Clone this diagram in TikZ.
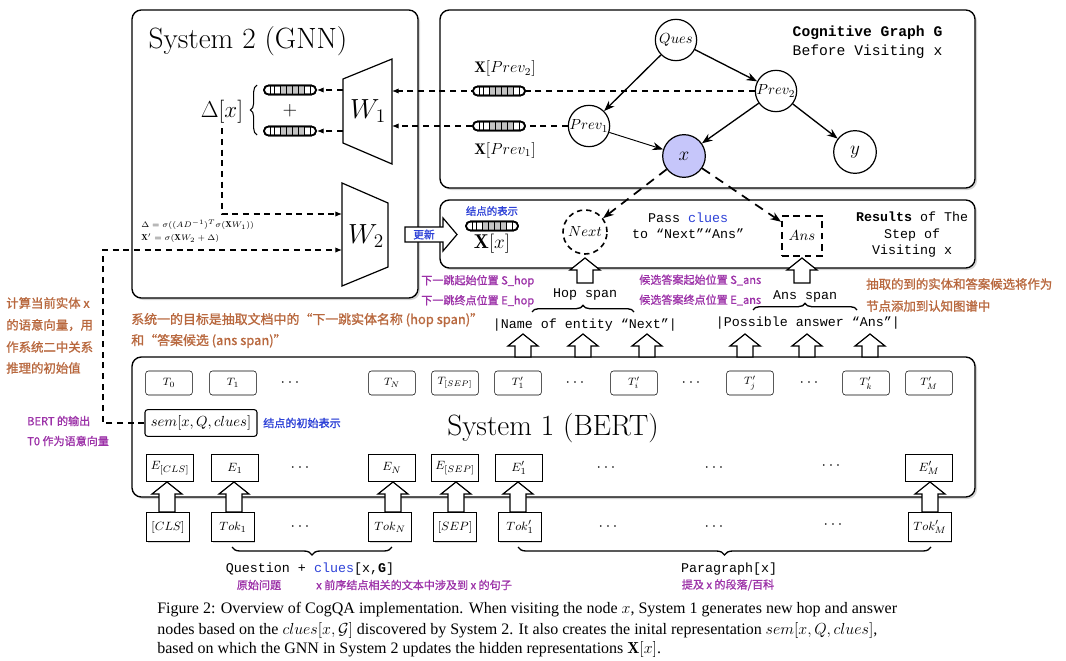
\documentclass[tikz,border=0pt]{standalone}
\usepackage{fontspec}
\setmonofont{Liberation Mono}
\newfontfamily\cjk[FakeBold=1.2]{Noto Sans CJK SC}
\newfontfamily\capfont{Liberation Serif}
\usetikzlibrary{arrows.meta,decorations.pathreplacing,shadows}
\definecolor{brownc}{RGB}{184,104,62}
\definecolor{purp}{RGB}{156,50,168}
\definecolor{blu}{RGB}{45,65,215}
\definecolor{lav}{RGB}{198,198,250}
\definecolor{vgray}{RGB}{195,195,195}
\newcommand\vecbar[1]{%
  \begin{scope}[shift={#1}]
    \draw[fill=white, line width=1.2pt, rounded corners=3.3pt] (-26,-4.5) rectangle (26,4.5);
    \fill[vgray] (-10,-4) rectangle (14,4);
    \foreach \xx in {-20,-16,-10,-4,2,8,14,20}{\draw[line width=0.6pt] (\xx,-4.5) -- (\xx,4.5);}
    \draw[line width=1.2pt, rounded corners=3.3pt] (-26,-4.5) rectangle (26,4.5);
  \end{scope}}
\newcommand\blkup[2]{%
  \begin{scope}[shift={#1}]
    \draw[line width=0.9pt, fill=white] (-8,0) -- (-8,-#2+12) -- (-15,-#2+12) -- (0,-#2) -- (15,-#2+12) -- (8,-#2+12) -- (8,0) -- cycle;
  \end{scope}}
\tikzset{
  bigbox/.style={draw, line width=1pt, rounded corners=7pt, fill=white, drop shadow={shadow xshift=1.5pt, shadow yshift=-1.5pt, opacity=0.35}},
  tbox/.style={draw, rounded corners=2pt, minimum width=35pt, minimum height=18pt, inner sep=0pt, fill=white, font=\fontsize{8.5}{9}\selectfont},
  ebox/.style={draw, line width=0.9pt, minimum width=35pt, minimum height=20pt, inner sep=0pt, fill=white, font=\fontsize{9.5}{10}\selectfont, drop shadow={shadow xshift=0.8pt, shadow yshift=-0.8pt, opacity=0.3}},
  tokbox/.style={draw, line width=0.9pt, minimum width=32pt, minimum height=22pt, inner sep=0pt, fill=white, font=\fontsize{9.5}{10}\selectfont, drop shadow={shadow xshift=0.8pt, shadow yshift=-0.8pt, opacity=0.3}},
  dotsn/.style={font=\fontsize{12}{12}\selectfont},
  gnode/.style={circle, draw, line width=0.9pt, minimum size=31pt, inner sep=0pt, fill=white, font=\fontsize{11}{12}\selectfont},
  gedge/.style={line width=1pt, -{Stealth[length=8pt,width=6pt]}},
  dasharr/.style={line width=0.8pt, dash pattern=on 4.5pt off 3.5pt, -{Latex[length=5pt,width=4pt]}},
  bigdash/.style={line width=1.3pt, dash pattern=on 7pt off 5pt, -{Stealth[length=8pt,width=6pt]}},
  cjkbr/.style={font=\cjk\fontsize{9.3}{11}\selectfont, text=brownc, inner sep=0pt},
  cjkp/.style={font=\cjk\fontsize{8.3}{10}\selectfont, text=purp, inner sep=0pt},
  cjkbl/.style={font=\cjk\fontsize{8.3}{10}\selectfont, text=blu, inner sep=0pt},
  mono/.style={font=\ttfamily\fontsize{10}{12}\selectfont},
  brc/.style={decorate, decoration={brace, amplitude=5pt}, line width=1pt},
  capt/.style={anchor=west, inner sep=0pt, font=\capfont\fontsize{12}{14}\selectfont},
}
\begin{document}
\begin{tikzpicture}[x=0.75pt,y=-0.75pt]
\useasboundingbox (0,0) rectangle (1066,660);
% ---------- main boxes
\draw[bigbox] (132,10) rectangle (418,298);
\draw[bigbox] (440,10) rectangle (975,188);
\draw[bigbox] (440,200) rectangle (975,268);
\draw[bigbox] (132,357) rectangle (975,497);

% ---------- System 2
\node (s2) at (248,41) {\fontsize{22}{26}\selectfont System 2 (GNN)};
\draw[line width=0.9pt, fill=white] (343,79) -- (392,59) -- (392,164) -- (343,143) -- cycle;
\node (W1) at (368,111) {\fontsize{20}{22}\selectfont $W_1$};
\draw[line width=0.9pt, fill=white] (342,183) -- (388,203) -- (388,267) -- (342,286) -- cycle;
\node (W2) at (366,236) {\fontsize{20}{22}\selectfont $W_2$};
\coordinate (w1a) at (392,91);
\coordinate (w1b) at (392,126);
\coordinate (w1c) at (343,90);
\coordinate (w1d) at (343,131);
\coordinate (w2a) at (342,214);
\coordinate (w2b) at (342,250);
\coordinate (v1e) at (317,90);
\coordinate (v2e) at (317,131);
\draw[dasharr] (w1c) -- (v1e);
\draw[dasharr] (w1d) -- (v2e);
\vecbar{(290,90)}
\vecbar{(290,131)}
\node (plus) at (290,111) {\fontsize{15}{16}\selectfont $+$};
\draw[brc, line width=0.8pt] (257,135) -- (257,85);
\node (delta) at (222,112) {\fontsize{16}{18}\selectfont $\Delta[x]$};
\draw[dasharr] (delta.south) |- (w2a);
\node[anchor=west, inner sep=0pt] (eq1) at (141,225) {\fontsize{6.5}{7}\selectfont $\Delta=\sigma((AD^{-1})^T\sigma(\mathbf{X}W_1))$};
\node[anchor=west, inner sep=0pt] (eq2) at (141,238) {\fontsize{6.5}{7}\selectfont $\mathbf{X}'=\sigma(\mathbf{X}W_2+\Delta)$};

% ---------- Cognitive graph
\node[gnode] (ques) at (676,40) {$Ques$};
\node[gnode] (prev2) at (776,91) {$Prev_2$};
\node[gnode] (prev1) at (589,126) {$Prev_1$};
\node[gnode, fill=lav, minimum size=32pt, font=\fontsize{15}{16}\selectfont] (xn) at (684,156) {$x$};
\node[gnode, minimum size=32pt, font=\fontsize{15}{16}\selectfont] (yn) at (855,152) {$y$};
\draw[gedge] (ques) -- (prev1);
\draw[gedge] (ques) -- (prev2);
\draw[gedge] (prev2) -- (xn);
\draw[gedge] (prev2) -- (yn);
\draw[gedge, line width=0.7pt] (prev1) -- (xn);
\node[anchor=west] (cg1) at (788,33) {\ttfamily\bfseries\fontsize{11}{12}\selectfont Cognitive Graph G};
\node[anchor=west] (cg2) at (788,52) {\ttfamily\fontsize{11}{12}\selectfont Before Visiting x};
\draw[dasharr] (prev2.west) -- (w1a);
\draw[dasharr] (prev1.west) -- (w1b);
\vecbar{(499,91)}
\vecbar{(499,126)}
\node (lp2) at (505,69) {\fontsize{11.5}{12}\selectfont $\mathbf{X}[Prev_2]$};
\node (lp1) at (505,150) {\fontsize{11.5}{12}\selectfont $\mathbf{X}[Prev_1]$};

% ---------- Results box
\node[cjkbl, font=\cjk\fontsize{7.8}{9}\selectfont] (jd) at (492,211) {结点的表示};
\vecbar{(492,226)}
\node (Xx) at (492,244) {\fontsize{15}{16}\selectfont $\mathbf{X}[x]$};
\node[circle, draw, line width=1.2pt, dash pattern=on 4pt off 3pt, minimum size=33pt, inner sep=0pt, fill=white, font=\fontsize{11}{12}\selectfont] (next) at (585,232) {$Next$};
\node[draw, line width=1.5pt, dash pattern=on 5pt off 3.5pt, minimum size=30pt, inner sep=0pt, fill=white, font=\fontsize{11}{12}\selectfont] (ans) at (802,236) {$Ans$};
\node[mono, align=center] (pass) at (688,226) {Pass \textcolor{blu}{clues}\\to “Next”“Ans”};
\node[mono, align=center, font=\ttfamily\fontsize{10}{12.4}\selectfont] (res) at (912,235) {\textbf{Results} of The\\Step of\\Visiting x};
\draw[bigdash] (xn) -- (next);
\draw[bigdash] (xn) -- (ans);
\draw[line width=0.9pt, fill=white] (405,227) -- (443,227) -- (443,218) -- (457,234.5) -- (443,251) -- (443,242) -- (405,242) -- cycle;
\node[cjkbl, font=\cjk\fontsize{8}{9}\selectfont] (upd) at (424,234.5) {更新};

% ---------- spans
\blkup{(585,283)}{25}
\blkup{(802,283)}{25}
\node[mono] (hop) at (585,294) {Hop span};
\draw[brc] (532,312) -- (634,312);
\node[mono] (name) at (585,325) {|Name of entity “Next”|};
\node[mono] (anssp) at (805,296) {Ans span};
\draw[brc] (753,310) -- (857,310);
\node[mono] (poss) at (808,323) {|Possible answer “Ans”|};
\foreach \ax in {523,583,647,745,807,870}{\blkup{(\ax,357)}{23}}

% ---------- annotations
\node[cjkp, anchor=west] (shop) at (421,281) {下一跳起始位置 S\_hop};
\node[cjkp, anchor=west] (ehop) at (421,301) {下一跳终点位置 E\_hop};
\node[cjkp, anchor=west] (sans) at (639,280) {候选答案起始位置 S\_ans};
\node[cjkp, anchor=west] (eans) at (639,300) {候选答案终点位置 E\_ans};
\node[cjkbr, anchor=west, font=\cjk\fontsize{9.7}{11}\selectfont] (goal1) at (131,320) {系统一的目标是抽取文档中的“下一跳实体名称 (hop span)”};
\node[cjkbr, anchor=west, font=\cjk\fontsize{9.7}{11}\selectfont] (goal2) at (131,341) {和“答案候选 (ans span)”};
\node[cjkbr, anchor=west] (r1) at (866,284) {抽取的到的实体和答案候选将作为};
\node[cjkbr, anchor=west] (r2) at (866,306) {节点添加到认知图谱中};
\node[cjkbr, anchor=west] (l1) at (6,303) {计算当前实体 x};
\node[cjkbr, anchor=west] (l2) at (6,325) {的语意向量，用};
\node[cjkbr, anchor=west] (l3) at (6,347) {作系统二中关系};
\node[cjkbr, anchor=west] (l4) at (6,368) {推理的初始值};
\node[cjkp, anchor=west] (p1) at (27,421) {BERT 的输出};
\node[cjkp, anchor=west] (p2) at (27,441) {T0 作为语意向量};

% ---------- System 1
\node[tbox] (t0) at (169,383) {$T_0$};
\node[tbox] (t1) at (233,383) {$T_1$};
\node[dotsn] (td1) at (290,383) {$\cdots$};
\node[tbox] (tn) at (392,383) {$T_N$};
\node[tbox] (tsep) at (455,383) {$T_{[SEP]}$};
\node[tbox] (tp1) at (518,383) {$T'_1$};
\node[dotsn] (td2) at (575,383) {$\cdots$};
\node[tbox] (tpi) at (634,383) {$T'_i$};
\node[dotsn] (td3) at (691,383) {$\cdots$};
\node[tbox] (tpj) at (750,383) {$T'_j$};
\node[dotsn] (td4) at (809,383) {$\cdots$};
\node[tbox] (tpk) at (866,383) {$T'_k$};
\node[tbox] (tpm) at (929,383) {$T'_M$};

\node[draw, rounded corners=2pt, line width=0.8pt, minimum width=84pt, minimum height=20pt, inner sep=2pt, fill=white, font=\fontsize{10.5}{12}\selectfont] (sem) at (201,423) {$sem[x,Q,clues]$};
\node[cjkbl, anchor=west] (semlab) at (263,423) {结点的初始表示};
\node (s1) at (553,428) {\fontsize{22}{26}\selectfont System 1 (BERT)};
\coordinate (lc) at (103,0);
\draw[dasharr] (sem.west) -- (sem.west -| lc) -- (lc |- w2b) -- (w2b);

\foreach \ax in {167,234,393,456,518,930}{\blkup{(\ax,512)}{30}}

\node[ebox] (ecls) at (170,468) {$E_{[CLS]}$};
\node[ebox] (e1) at (235,468) {$E_1$};
\node[dotsn] (ed1) at (300,468) {$\cdots$};
\node[ebox] (en) at (392,468) {$E_N$};
\node[ebox] (esep) at (455,468) {$E_{[SEP]}$};
\node[ebox] (ep1) at (519,468) {$E'_1$};
\node[dotsn] (ed2) at (606,468) {$\cdots$};
\node[dotsn] (ed3) at (714,468) {$\cdots$};
\node[dotsn] (ed4) at (831,466) {$\cdots$};
\node[ebox] (epm) at (929,468) {$E'_M$};

\node[tokbox] (kcls) at (168,527) {$[CLS]$};
\node[tokbox] (k1) at (233,527) {$Tok_1$};
\node[dotsn] (kd1) at (300,527) {$\cdots$};
\node[tokbox] (kn) at (390,527) {$Tok_N$};
\node[tokbox] (ksep) at (455,527) {$[SEP]$};
\node[tokbox] (kp1) at (520,527) {$Tok'_1$};
\node[dotsn] (kd2) at (608,527) {$\cdots$};
\node[dotsn] (kd3) at (714,527) {$\cdots$};
\node[dotsn] (kd4) at (833,525) {$\cdots$};
\node[tokbox] (kpm) at (930,527) {$Tok'_M$};

\draw[brc, decoration={brace, amplitude=6pt, mirror}] (232,547) -- (392,547);
\draw[brc, decoration={brace, amplitude=6pt, mirror}] (518,547) -- (931,547);
\node[mono] (qc) at (310,569) {Question + \textcolor{blu}{clues}[x,\textbf{G}]};
\node[cjkp] (yswt) at (259,585) {原始问题};
\node[cjkp, anchor=west] (qxs) at (316,585) {x 前序结点相关的文本中涉及到 x 的句子};
\node[mono] (para) at (729,569) {Paragraph[x]};
\node[cjkp] (tj) at (728,585) {提及 x 的段落/百科};

% ---------- caption
\node[capt] (c1) at (157,610) {Figure 2: Overview of CogQA implementation. When visiting the node $x$, System 1 generates new hop and answer};
\node[capt] (c2) at (157,630) {nodes based on the $clues[x,\mathcal{G}]$ discovered by System 2. It also creates the inital representation $sem[x,Q,clues]$,};
\node[capt] (c3) at (157,649) {based on which the GNN in System 2 updates the hidden representations $\mathbf{X}[x]$.};
\end{tikzpicture}
\end{document}
